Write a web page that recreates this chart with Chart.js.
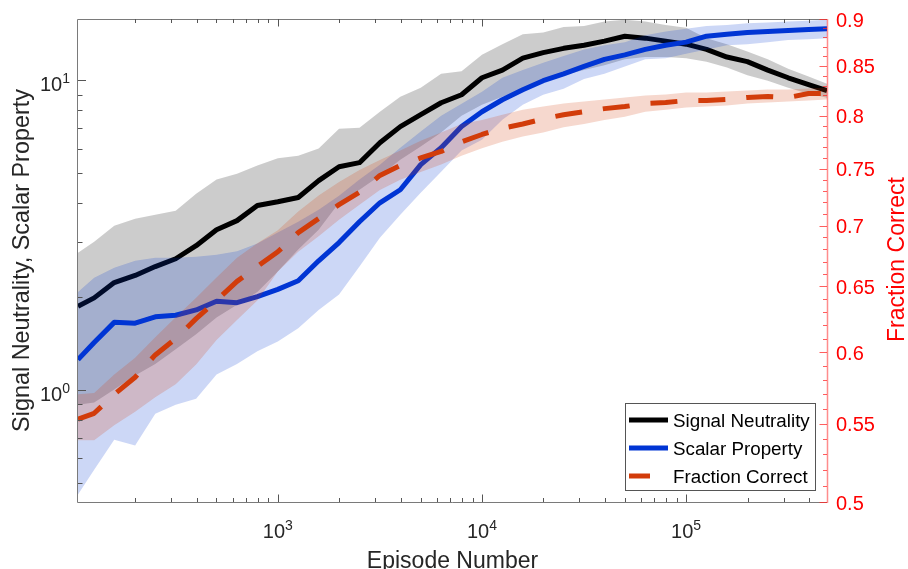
<!DOCTYPE html>
<html>
<head>
<meta charset="utf-8">
<script src="https://cdn.jsdelivr.net/npm/chart.js@4.4.1/dist/chart.umd.min.js"></script>
<style>
    html, body { margin: 0; padding: 0; background: #fff; }
    #wrap { width: 908px; height: 569px; }
</style>
</head>
<body>
<div id="wrap"><canvas id="chart" width="908" height="569"></canvas></div>
<script>
const FONT = '"Liberation Sans", Arial, Helvetica, sans-serif'

// episode numbers (x, log spaced)
const episodes = [105, 126, 158, 200, 251, 316, 398, 501, 631, 794,
    1000, 1259, 1585, 1995, 2512, 3162, 3981, 5012, 6310, 7943,
    10000, 12589, 15849, 19953, 25119, 31623, 39811, 50119, 63096, 79433,
    100000, 125893, 158489, 199526, 251189, 316228, 398107, 490000]

// left axis (log)
const signalNeutrality = [1.86, 1.98, 2.22, 2.34, 2.50, 2.65, 2.92, 3.29, 3.52, 3.94,
    4.05, 4.18, 4.74, 5.26, 5.42, 6.29, 7.09, 7.75, 8.47, 8.99,
    10.2, 10.8, 11.8, 12.3, 12.7, 13.0, 13.4, 13.9, 13.7, 13.4,
    13.1, 12.6, 11.9, 11.5, 10.8, 10.2, 9.69, 9.26]
const signalNeutralityHigh = [2.77, 3.01, 3.39, 3.57, 3.68, 3.79, 4.30, 4.78, 4.99, 5.31,
    5.60, 5.71, 6.02, 6.98, 7.03, 7.92, 8.86, 9.47, 10.5, 10.7,
    12.1, 13.1, 14.1, 14.3, 14.9, 15.0, 15.5, 15.7, 15.5, 15.1,
    14.8, 13.7, 13.1, 12.4, 11.7, 10.9, 10.3, 9.76]
const signalNeutralityLow = [0.894, 0.908, 1.00, 1.11, 1.21, 1.35, 1.51, 1.71, 1.88, 2.07,
    2.41, 2.84, 3.29, 4.02, 4.43, 4.92, 5.54, 6.11, 6.78, 7.69,
    8.34, 8.86, 9.33, 9.90, 10.4, 10.8, 11.2, 11.7, 11.9, 11.9,
    11.8, 11.5, 11.0, 10.4, 9.98, 9.47, 9.06, 8.79]

const scalarProperty = [1.25, 1.42, 1.65, 1.64, 1.72, 1.74, 1.81, 1.93, 1.91, 2.00,
    2.11, 2.25, 2.61, 2.99, 3.49, 4.02, 4.43, 5.34, 6.06, 7.09,
    7.92, 8.66, 9.33, 9.98, 10.5, 11.1, 11.7, 12.1, 12.6, 13.0,
    13.3, 13.9, 14.1, 14.3, 14.4, 14.5, 14.6, 14.7]
const scalarPropertyHigh = [2.07, 2.30, 2.48, 2.61, 2.67, 2.67, 2.69, 2.73, 2.80, 2.97,
    3.22, 3.49, 3.82, 4.24, 4.78, 5.34, 6.06, 6.83, 7.69, 8.41,
    9.19, 10.2, 10.8, 11.4, 12.0, 12.6, 13.0, 13.3, 14.0, 14.4,
    14.7, 15.0, 15.1, 15.3, 15.4, 15.5, 15.6, 15.7]
const scalarPropertyLow = [0.458, 0.551, 0.689, 0.659, 0.836, 0.894, 0.935, 1.12, 1.21, 1.33,
    1.43, 1.58, 1.81, 2.03, 2.50, 3.10, 3.68, 4.33, 5.07, 5.93,
    6.43, 7.46, 8.34, 8.99, 9.40, 10.1, 10.5, 11.1, 11.7, 11.8,
    12.2, 12.6, 13.0, 13.1, 13.3, 13.5, 13.6, 13.7]

// right axis (log, 0.5 - 0.9)
const fractionCorrect = [0.553, 0.557, 0.570, 0.582, 0.598, 0.610, 0.625, 0.639, 0.654, 0.666,
    0.678, 0.694, 0.706, 0.718, 0.729, 0.744, 0.753, 0.760, 0.766, 0.775,
    0.782, 0.788, 0.792, 0.797, 0.801, 0.804, 0.807, 0.809, 0.812, 0.813,
    0.815, 0.815, 0.816, 0.818, 0.819, 0.818, 0.822, 0.822]
const fractionCorrectHigh = [0.570, 0.571, 0.584, 0.596, 0.611, 0.626, 0.641, 0.657, 0.673, 0.685,
    0.696, 0.712, 0.726, 0.738, 0.749, 0.758, 0.767, 0.776, 0.784, 0.792,
    0.796, 0.801, 0.806, 0.809, 0.812, 0.814, 0.816, 0.818, 0.820, 0.821,
    0.823, 0.823, 0.824, 0.825, 0.826, 0.826, 0.827, 0.828]
const fractionCorrectLow = [0.539, 0.539, 0.549, 0.558, 0.568, 0.577, 0.591, 0.609, 0.624, 0.639,
    0.662, 0.678, 0.691, 0.705, 0.718, 0.731, 0.740, 0.747, 0.754, 0.762,
    0.769, 0.775, 0.780, 0.784, 0.789, 0.792, 0.796, 0.799, 0.804, 0.806,
    0.808, 0.809, 0.810, 0.812, 0.813, 0.814, 0.815, 0.816]

const xMajorTicks = [1e3, 1e4, 1e5]
const leftMajorTicks = [1, 10]
const rightMajorTicks = [0.5, 0.55, 0.6, 0.65, 0.7, 0.75, 0.8, 0.85, 0.9]
const rightTickLabels = ['0.5', '0.55', '0.6', '0.65', '0.7', '0.75', '0.8', '0.85', '0.9']
const seriesNames = ['Signal Neutrality', 'Scalar Property', 'Fraction Correct']

const lineColors = ['#000000', '#0035d4', '#d23c0a']
const bandColors = ['rgba(0,0,0,0.2)', 'rgba(0,53,212,0.2)', 'rgba(210,60,10,0.2)']

const pts = ys => episodes.map((e, i) => ({ x: e, y: ys[i] }))

const band = (low, high, axis, color, order) => [{
        label: 'low',
        data: pts(low),
        yAxisID: axis,
        borderWidth: 0,
        borderColor: 'rgba(0,0,0,0)',
        pointRadius: 0,
        fill: false,
        order: order
    },
    {
        label: 'high',
        data: pts(high),
        yAxisID: axis,
        borderWidth: 0,
        borderColor: 'rgba(0,0,0,0)',
        backgroundColor: color,
        pointRadius: 0,
        fill: '-1',
        order: order
    }
]

const line = (label, ys, axis, color, order, dash = []) => ({
    label: label,
    data: pts(ys),
    yAxisID: axis,
    borderColor: color,
    borderWidth: 5,
    borderDash: dash,
    borderJoinStyle: 'round',
    pointRadius: 0,
    fill: false,
    order: order
})

const datasets = [
    ...band(signalNeutralityLow, signalNeutralityHigh, 'y', bandColors[0], 6),
    line(seriesNames[0], signalNeutrality, 'y', lineColors[0], 5),
    ...band(scalarPropertyLow, scalarPropertyHigh, 'y', bandColors[1], 4),
    line(seriesNames[1], scalarProperty, 'y', lineColors[1], 3),
    ...band(fractionCorrectLow, fractionCorrectHigh, 'y2', bandColors[2], 2),
    line(seriesNames[2], fractionCorrect, 'y2', lineColors[2], 1, [27, 21])
]

// superscript power-of-ten label
const drawPow = (ctx, exp, x, baseY, align) => {
    ctx.font = `20px ${FONT}`
    const wb = ctx.measureText('10').width
    ctx.font = `14px ${FONT}`
    const we = ctx.measureText(String(exp)).width
    const left = align === 'right' ? x - wb - we : x - (wb + we) / 2
    ctx.textAlign = 'left'
    ctx.textBaseline = 'alphabetic'
    ctx.font = `20px ${FONT}`
    ctx.fillText('10', left, baseY)
    ctx.font = `14px ${FONT}`
    ctx.fillText(String(exp), left + wb, baseY - 8)
}

const minorLog = (min, max) => {
    const out = []
    for (let p = Math.floor(Math.log10(min)); p <= Math.ceil(Math.log10(max)); p++) {
        for (let m = 2; m <= 9; m++) {
            const v = m * Math.pow(10, p)
            if (v >= min && v <= max) out.push(v)
        }
    }
    return out
}

const axesDeco = {
    id: 'axesDeco',
    afterDraw(chart) {
        const { ctx, chartArea: a, scales } = chart
        const { x, y, y2 } = scales
        ctx.save()

        // gray box part (left, top, bottom)
        ctx.strokeStyle = '#7a7a7a'
        ctx.lineWidth = 1
        ctx.beginPath()
        ctx.moveTo(a.right, a.top + 0.5)
        ctx.lineTo(a.left - 0.5, a.top + 0.5)
        ctx.lineTo(a.left - 0.5, a.bottom + 0.5)
        ctx.lineTo(a.right, a.bottom + 0.5)
        ctx.stroke()

        // x ticks, top and bottom, pointing in
        ctx.strokeStyle = '#555'
        ctx.beginPath()
        const xTick = (v, len) => {
            const px = Math.round(x.getPixelForValue(v)) + 0.5
            ctx.moveTo(px, a.bottom)
            ctx.lineTo(px, a.bottom - len)
            ctx.moveTo(px, a.top)
            ctx.lineTo(px, a.top + len)
        }
        minorLog(x.min, x.max).forEach(v => xTick(v, 4))
        xMajorTicks.forEach(v => xTick(v, 7.5))

        // left ticks
        const yTick = (v, len) => {
            const py = Math.round(y.getPixelForValue(v)) + 0.5
            ctx.moveTo(a.left, py)
            ctx.lineTo(a.left + len, py)
        }
        minorLog(y.min, y.max).forEach(v => yTick(v, 4.5))
        leftMajorTicks.forEach(v => yTick(v, 8))
        ctx.stroke()

        // right axis (red)
        ctx.strokeStyle = 'rgba(255,0,0,0.45)'
        ctx.lineWidth = 1.5
        ctx.beginPath()
        ctx.moveTo(a.right + 0.5, a.top)
        ctx.lineTo(a.right + 0.5, a.bottom + 1)
        ctx.stroke()
        ctx.strokeStyle = 'rgba(255,40,40,0.75)'
        ctx.lineWidth = 1
        ctx.beginPath()
        for (let k = 50; k <= 90; k++) {
            const v = k / 100
            const py = Math.round(y2.getPixelForValue(v)) + 0.5
            const len = k % 5 === 0 ? 7.5 : 4
            ctx.moveTo(a.right, py)
            ctx.lineTo(a.right - len, py)
        }
        ctx.stroke()

        // tick labels
        ctx.fillStyle = '#262626'
        xMajorTicks.forEach(v => drawPow(ctx, Math.round(Math.log10(v)), x.getPixelForValue(v), a.bottom + 36))
        leftMajorTicks.forEach(v => drawPow(ctx, Math.round(Math.log10(v)), a.left - 8, y.getPixelForValue(v) + 11, 'right'))

        ctx.fillStyle = '#ff0000'
        ctx.font = `20px ${FONT}`
        ctx.textAlign = 'left'
        ctx.textBaseline = 'alphabetic'
        rightMajorTicks.forEach((v, i) => {
            ctx.fillText(rightTickLabels[i], a.right + 9, y2.getPixelForValue(v) + 7.5)
        })

        // axis titles
        ctx.fillStyle = '#262626'
        ctx.font = `23px ${FONT}`
        ctx.textAlign = 'center'
        ctx.fillText('Episode Number', (a.left + a.right) / 2, 568)

        ctx.save()
        ctx.translate(28.5, (a.top + a.bottom) / 2)
        ctx.rotate(-Math.PI / 2)
        ctx.font = `23.4px ${FONT}`
        ctx.fillText('Signal Neutrality, Scalar Property', 0, 0)
        ctx.restore()

        ctx.save()
        ctx.translate(904, (a.top + a.bottom) / 2 - 1)
        ctx.rotate(-Math.PI / 2)
        ctx.fillStyle = '#ff0000'
        ctx.font = `23px ${FONT}`
        ctx.fillText('Fraction Correct', 0, 0)
        ctx.restore()

        // legend
        const box = { left: 625.5, top: 403.5, right: 815.5, bottom: 490.5 }
        ctx.fillStyle = '#ffffff'
        ctx.fillRect(box.left, box.top, box.right - box.left, box.bottom - box.top)
        ctx.strokeStyle = '#555'
        ctx.lineWidth = 1
        ctx.strokeRect(box.left, box.top, box.right - box.left, box.bottom - box.top)
        seriesNames.forEach((name, i) => {
            const cy = 420 + i * 28
            ctx.strokeStyle = lineColors[i]
            ctx.lineWidth = 5
            ctx.beginPath()
            ctx.moveTo(629, cy)
            // dashed series: only the first dash fits in the sample
            ctx.lineTo(i === 2 ? 650 : 668, cy)
            ctx.stroke()
            ctx.fillStyle = '#000'
            ctx.font = `18.8px ${FONT}`
            ctx.textAlign = 'left'
            ctx.fillText(name, 673, cy + 7)
        })

        ctx.restore()
    }
}

new Chart(document.getElementById('chart'), {
    type: 'line',
    data: { datasets: datasets },
    options: {
        responsive: false,
        animation: false,
        devicePixelRatio: 1,
        events: [],
        layout: { padding: { left: 78, right: 81, top: 19, bottom: 67 } },
        elements: { line: { tension: 0 } },
        plugins: {
            legend: { display: false },
            tooltip: { enabled: false }
        },
        scales: {
            x: { type: 'logarithmic', min: 105, max: 490000, display: false },
            y: { type: 'logarithmic', min: 0.433, max: 15.8, display: false },
            y2: { type: 'logarithmic', position: 'right', min: 0.5, max: 0.9, display: false }
        }
    },
    plugins: [axesDeco]
})
</script>
</body>
</html>
